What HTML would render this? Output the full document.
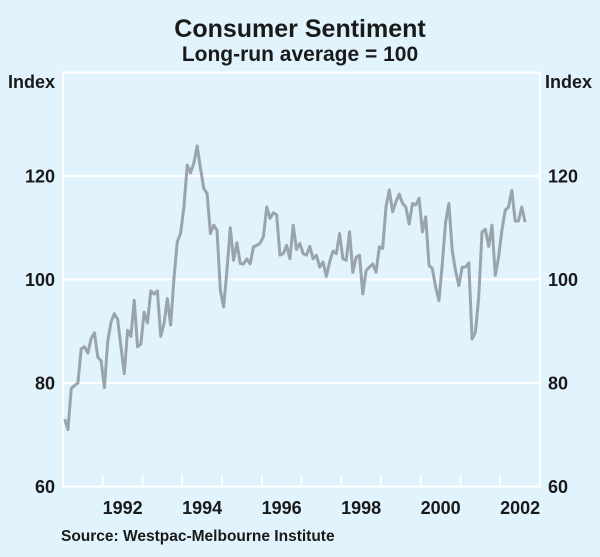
<!DOCTYPE html>
<html><head><meta charset="utf-8"><style>
html,body{margin:0;padding:0;background:#e1f3fd;}
svg{display:block;font-family:"Liberation Sans",Arial,sans-serif;}
</style></head><body>
<svg id="chart" width="600" height="557" viewBox="0 0 600 557">
<rect x="0" y="0" width="600" height="557" fill="#e1f3fd"/>
<text x="300" y="37" text-anchor="middle" font-size="25" font-weight="bold" fill="#1a1a1a">Consumer Sentiment</text>
<text x="300" y="61" text-anchor="middle" font-size="21" font-weight="bold" fill="#1a1a1a">Long-run average = 100</text>
<text x="8" y="88" font-size="18" font-weight="bold" fill="#1a1a1a">Index</text>
<text x="592" y="88" text-anchor="end" font-size="18" font-weight="bold" fill="#1a1a1a">Index</text>
<g id="grid"></g>
<g id="ticks"></g>
<g id="ylabels"></g>
<g id="xlabels"></g>
<rect x="63" y="72.5" width="477" height="414" fill="none" stroke="#ffffff" stroke-width="2"/>
<path id="line" fill="none" stroke="#9aa4ab" stroke-width="3" stroke-linejoin="round"/>
<text x="61" y="541" font-size="15.5" font-weight="bold" fill="#1a1a1a">Source: Westpac-Melbourne Institute</text>
</svg>
<script>
const startYear = 1991;
const yTicks = [60, 80, 100, 120];
const yearLabels = ["1992","1994","1996","1998","2000","2002"];
const sentiment = [
73,71,79,79.5,80,86.6,87,85.8,88.6,89.7,85,84.3,
79.1,88,91.8,93.4,92.3,87,81.8,90.2,89,96,87,87.5,
93.7,91.6,97.8,97.2,97.8,89,91.5,96.3,91.2,100.2,107.3,108.9,
114,122.1,120.6,122.5,125.8,121.5,117.6,116.6,108.9,110.5,109.5,97.9,
94.7,101.8,110,103.7,107.1,103.1,103,104,103,106.3,106.6,107,
108.3,114,111.8,112.9,112.5,104.7,105,106.6,104,110.5,105.8,107,
105,104.7,106.4,104,104.7,102.4,103.4,100.6,103.4,105.5,105,108.9,
104,103.7,109.2,101.4,104.3,104.7,97.2,101.7,102.4,103,101.4,106.3,
106,114,117.3,113.1,115,116.5,114.7,114,110.7,114.7,114.4,115.7,
109.2,112.1,102.7,102.1,98.5,95.9,103,111.1,114.7,105.6,101.7,98.8,
102.4,102.4,103.2,88.5,89.8,96.6,109.2,109.7,106.4,110.5,100.8,104.3,
109.5,113.4,114,117.2,111.3,111.3,114,111.1
];
const X0=63, X1=540, Y0=486.5, Y1=72.5, yMin=60, yMax=140, tMin=1991, tMax=2003;
function xScale(t){return X0+(t-tMin)/(tMax-tMin)*(X1-X0);}
function yScale(v){return Y0-(v-yMin)/(yMax-yMin)*(Y0-Y1);}
const NS="http://www.w3.org/2000/svg";
const grid=document.getElementById('grid'), yl=document.getElementById('ylabels');
yTicks.forEach(v=>{
  const y=yScale(v);
  if(v>yMin){
    const l=document.createElementNS(NS,'line');
    l.setAttribute('x1',X0);l.setAttribute('x2',X1);l.setAttribute('y1',y);l.setAttribute('y2',y);
    l.setAttribute('stroke','#ffffff');l.setAttribute('stroke-width','2');
    
    
    grid.appendChild(l);
  }
  [[55,'end'],[548,'start']].forEach(([x,anchor])=>{
    const t=document.createElementNS(NS,'text');
    t.setAttribute('x',x);t.setAttribute('y',y+6.5);t.setAttribute('text-anchor',anchor);
    t.setAttribute('font-size','18');t.setAttribute('font-weight','bold');t.setAttribute('fill','#1a1a1a');
    t.textContent=v;
    
    
    yl.appendChild(t);
  });
});
const tk=document.getElementById('ticks');
for(let yr=tMin+1; yr<tMax; yr++){
  const x=xScale(yr);
  const l=document.createElementNS(NS,'line');
  l.setAttribute('x1',x);l.setAttribute('x2',x);l.setAttribute('y1',Y0);l.setAttribute('y2',Y0-11);
  l.setAttribute('stroke','#ffffff');l.setAttribute('stroke-width','2');
  
  
  tk.appendChild(l);
}
const xl=document.getElementById('xlabels');
yearLabels.forEach(s=>{
  const t=document.createElementNS(NS,'text');
  t.setAttribute('x',xScale(+s+0.5));t.setAttribute('y',514);t.setAttribute('text-anchor','middle');
  t.setAttribute('font-size','18');t.setAttribute('font-weight','bold');t.setAttribute('fill','#1a1a1a');
  t.textContent=s;
  
  
  xl.appendChild(t);
});
let d='';
sentiment.forEach((v,i)=>{
  const x=xScale(startYear+(i+0.5)/12), y=yScale(v);
  d+=(i?'L':'M')+x.toFixed(2)+','+y.toFixed(2);
});
document.getElementById('line').setAttribute('d',d);
</script>
</body></html>
